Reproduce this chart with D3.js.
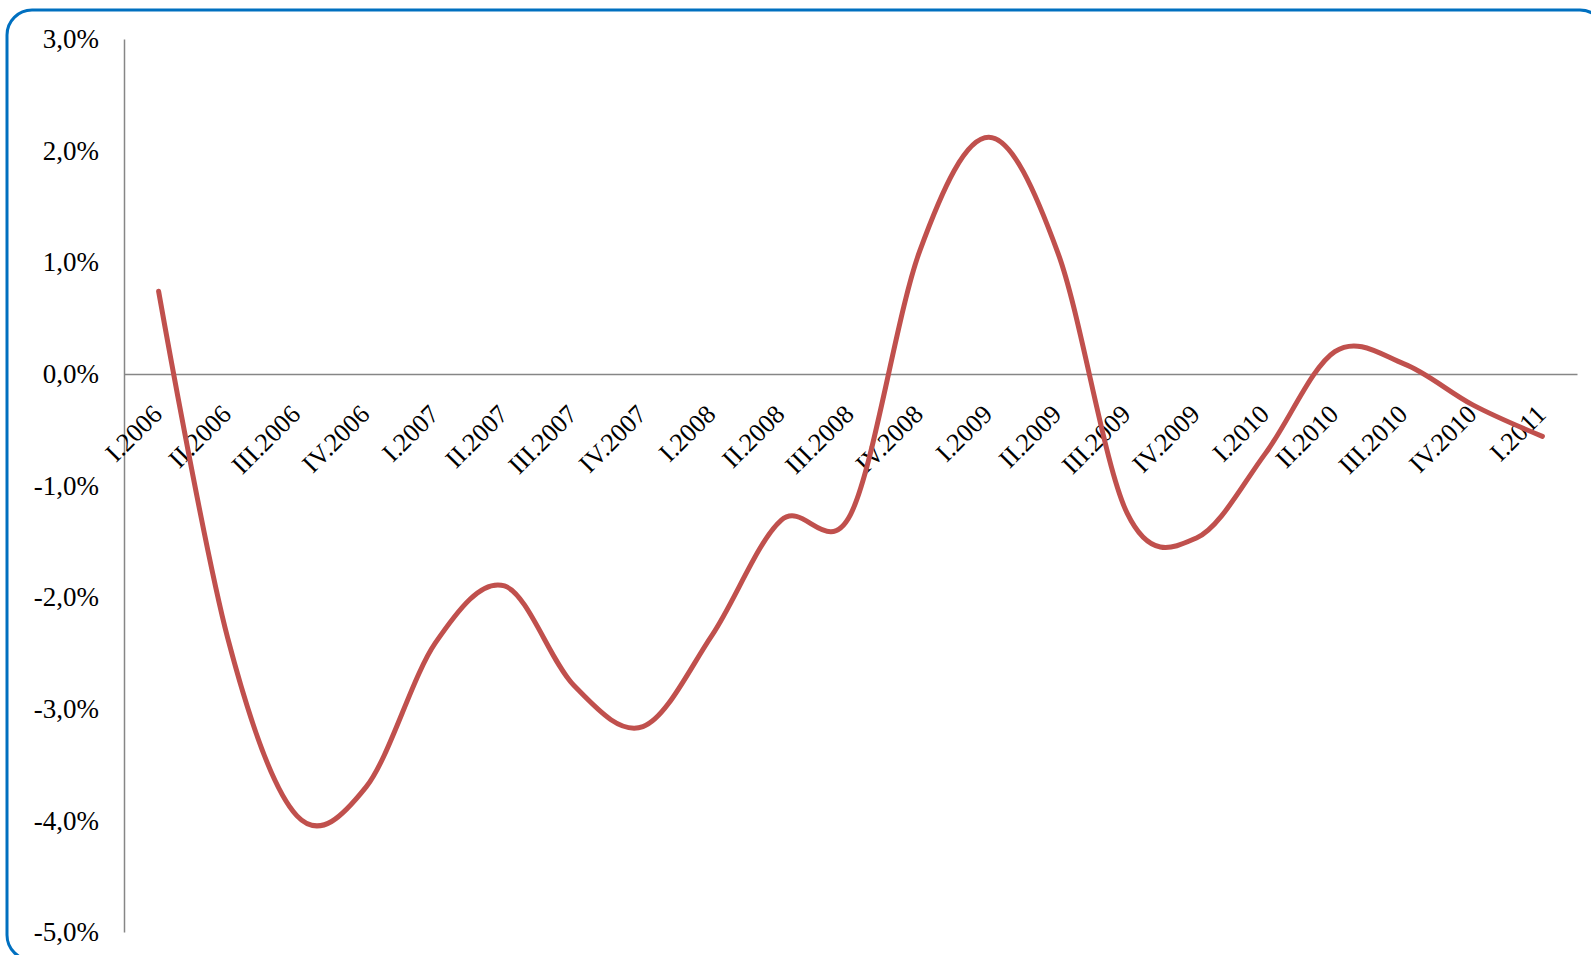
<!DOCTYPE html>
<html>
<head>
<meta charset="utf-8">
<script src="https://cdn.jsdelivr.net/npm/d3@7"></script>
<style>
  html, body { margin: 0; padding: 0; background: #ffffff; }
  svg { display: block; }
  .axis text { font-family: "Liberation Serif", "Times New Roman", serif; fill: #000000; }
</style>
</head>
<body>
<svg id="chart" width="1591" height="955"></svg>
<script>
// Quarterly categories along the horizontal axis
const quarters = [
  "I.2006", "II.2006", "III.2006", "IV.2006",
  "I.2007", "II.2007", "III.2007", "IV.2007",
  "I.2008", "II.2008", "III.2008", "IV.2008",
  "I.2009", "II.2009", "III.2009", "IV.2009",
  "I.2010", "II.2010", "III.2010", "IV.2010",
  "I.2011"
];

// Series values, in percent
const values = [
  0.74, -2.37, -3.96, -3.70,
  -2.41, -1.90, -2.79, -3.16,
  -2.34, -1.31, -1.26, 1.10,
  2.12, 1.08, -1.25, -1.47,
  -0.71, 0.20, 0.09, -0.28,
  -0.56
];

// Vertical axis ticks, in percent
const yTicks = [-5, -4, -3, -2, -1, 0, 1, 2, 3];

const svg = d3.select("#chart");

const plot = { left: 124, right: 1577, top: 39, bottom: 932 };

const locale = d3.formatLocale({
  decimal: ",", thousands: " ", grouping: [3], currency: ["", ""], minus: "-"
});
const fmt = locale.format(".1f");

// Frame with rounded corners
svg.append("rect")
  .attr("x", 7).attr("y", 10)
  .attr("width", 1598).attr("height", 950)
  .attr("rx", 25).attr("ry", 25)
  .attr("fill", "#ffffff")
  .attr("stroke", "#0070C0")
  .attr("stroke-width", 3);

const x = d3.scaleBand()
  .domain(quarters)
  .range([plot.left, plot.right])
  .paddingInner(0).paddingOuter(0);

const y = d3.scaleLinear()
  .domain([-5, 3])
  .range([plot.bottom, plot.top]);

const cx = d => x(d) + x.bandwidth() / 2;

// Vertical axis
const yAxis = svg.append("g")
  .attr("class", "axis")
  .attr("transform", `translate(${plot.left},0)`)
  .call(d3.axisLeft(y)
    .tickValues(yTicks)
    .tickSize(0)
    .tickPadding(25)
    .tickFormat(v => fmt(v) + "%"));

yAxis.select(".domain")
  .attr("stroke", "#868686")
  .attr("stroke-width", 1.5);

yAxis.selectAll("text")
  .style("font-family", "'Liberation Serif', 'Times New Roman', serif")
  .style("font-size", "27px");

// Horizontal axis along zero, with rotated quarter labels
const xAxis = svg.append("g")
  .attr("class", "axis")
  .attr("transform", `translate(0,${y(0)})`)
  .call(d3.axisBottom(x)
    .tickSize(0)
    .tickSizeOuter(0));

xAxis.select(".domain")
  .attr("stroke", "#868686")
  .attr("stroke-width", 1.5);

xAxis.selectAll("text")
  .style("font-family", "'Liberation Serif', 'Times New Roman', serif")
  .style("font-size", "26px")
  .attr("text-anchor", "end")
  .attr("dy", 0)
  .attr("y", 0)
  .attr("transform", "translate(5,42) rotate(-45)");

// Smoothed series line
const line = d3.line()
  .x((d, i) => cx(quarters[i]))
  .y(d => y(d))
  .curve(d3.curveCardinal.tension(0));

svg.append("path")
  .datum(values)
  .attr("fill", "none")
  .attr("stroke", "#C0504D")
  .attr("stroke-width", 5)
  .attr("stroke-linejoin", "round")
  .attr("stroke-linecap", "round")
  .attr("d", line);
</script>
</body>
</html>
